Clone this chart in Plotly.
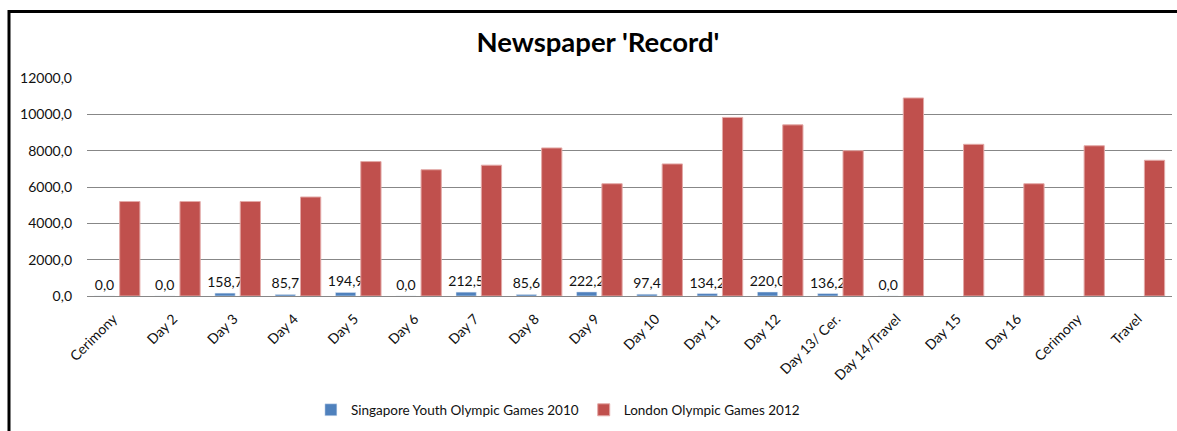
import plotly.graph_objects as go

categories = ["Cerimony", "Day 2", "Day 3", "Day 4", "Day 5", "Day 6", "Day 7", "Day 8",
              "Day 9", "Day 10", "Day 11", "Day 12", "Day 13/ Cer.", "Day 14/Travel",
              "Day 15", "Day 16", "Cerimony", "Travel"]
singapore_2010 = [0.0, 0.0, 158.7, 85.7, 194.9, 0.0, 212.5, 85.6, 222.2, 97.4,
                  134.2, 220.0, 136.2, 0.0]
london_2012 = [5200, 5200, 5200, 5450, 7400, 6950, 7200, 8150, 6180, 7270,
               9830, 9420, 8000, 10900, 8350, 6180, 8270, 7470]
y_ticks = [0, 2000, 4000, 6000, 8000, 10000, 12000]

FONT = "Lato, 'Open Sans', sans-serif"
pos = list(range(len(categories)))

def fmt(v):
    return f"{v:.1f}".replace(".", ",")

fig = go.Figure()
fig.add_trace(go.Bar(
    name="Singapore Youth Olympic Games 2010",
    x=pos[:len(singapore_2010)], y=singapore_2010,
    marker=dict(color="#4F81BD"),
    text=[fmt(v) for v in singapore_2010],
    textposition="outside",
    textfont=dict(size=14, color="#111111", family=FONT),
    constraintext="none",
    cliponaxis=False,
))
fig.add_trace(go.Bar(
    name="London Olympic Games 2012",
    x=pos, y=london_2012,
    marker=dict(color="#C0504D", line=dict(color="#E3A9A7", width=1)),
))

def px_x(px):
    return (px - 87) / 1085

def px_y(py):
    return (298 - py) / 220

fig.update_layout(
    width=1177, height=431,
    margin=dict(l=87, r=5, t=78, b=133),
    paper_bgcolor="white", plot_bgcolor="white",
    barmode="group", bargap=0.16, bargroupgap=0.2,
    separators=",.",
    font=dict(family=FONT, size=14, color="#111111"),
    title=dict(text="<b>Newspaper 'Record'</b>", x=0.508, xanchor="center",
               y=0.902, yanchor="middle",
               font=dict(family=FONT, size=27.5, color="black")),
    showlegend=True,
    legend=dict(orientation="h", x=0.434, xanchor="center", y=-0.523, yanchor="middle",
                font=dict(size=13.5, family=FONT, color="#111111"),
                itemwidth=30, tracegroupgap=0),
    xaxis=dict(tickmode="array", tickvals=pos, ticktext=categories,
               range=[-0.5, len(categories) - 0.5], tickangle=-45,
               showgrid=False, zeroline=False, showline=False, ticks="",
               ticklabelstandoff=11, ticklabelshift=-4,
               tickfont=dict(size=14, family=FONT, color="#111111")),
    yaxis=dict(range=[0, 12000], tickvals=y_ticks, tickformat=".1f",
               showgrid=True, gridcolor="#878787", gridwidth=1.3,
               zeroline=True, zerolinecolor="#878787", zerolinewidth=1.3,
               showline=False, ticks="", ticklabelstandoff=14,
               tickfont=dict(size=14, family=FONT, color="#111111")),
    shapes=[
        dict(type="rect", xref="paper", yref="paper",
             x0=px_x(9), x1=px_x(1200), y0=px_y(11), y1=px_y(460),
             line=dict(color="black", width=3), fillcolor="rgba(0,0,0,0)",
             layer="above"),
    ],
)

fig.write_html("out.html", config={"displayModeBar": False})
